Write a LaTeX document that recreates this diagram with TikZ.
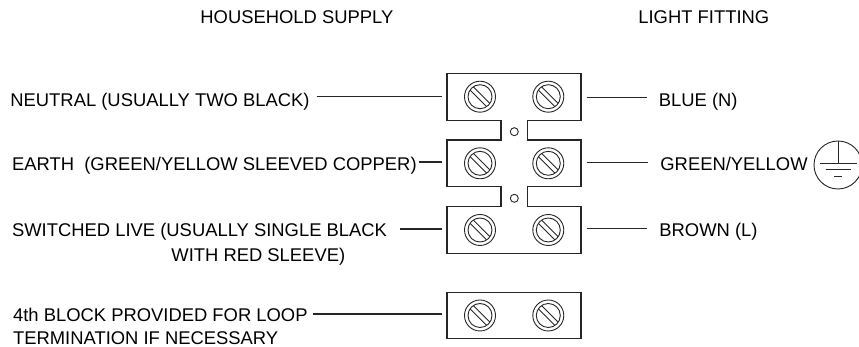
\documentclass[tikz,border=0pt]{standalone}
\usepackage{fontspec}
\setmainfont{Liberation Sans}
\usetikzlibrary{calc}
\begin{document}
\begin{tikzpicture}[x=0.5pt,y=-0.5pt,
  lbl/.style={anchor=west,inner sep=0pt,font=\fontsize{9.2pt}{11pt}\selectfont,text height=6.6pt,text depth=0pt},
  wire/.style={line width=0.6pt,black!85},
  outline/.style={line width=0.7pt,black!85},
  thinline/.style={line width=0.45pt,black!85},
  screw/.pic={
    \draw[thinline] (0,0) circle[radius=7.75pt];
    \draw[thinline] (0,0) circle[radius=6pt];
    \draw[thinline] (-6.72,-9.97) -- (9.97,6.72);
    \draw[thinline] (-9.97,-6.72) -- (6.72,9.97);
  }]
\useasboundingbox (0,0) rectangle (859,347);

% headings
\node[lbl] (hs) at (200,16.8) {HOUSEHOLD SUPPLY};
\node[lbl] (lf) at (638,16.8) {LIGHT FITTING};

% connected blocks 1-3
\draw[outline] (447,73.3) -- (581,73.3) -- (581,120.3) -- (527.3,120.3) -- (527.3,140)
  -- (581,140) -- (581,186.7) -- (527.3,186.7) -- (527.3,206.7) -- (581,206.7)
  -- (581,253.3) -- (447,253.3) -- (447,206.7) -- (501,206.7) -- (501,186.7)
  -- (447,186.7) -- (447,140) -- (501,140) -- (501,120.3) -- (447,120.3) -- cycle;
\draw[thinline] (514.3,131.7) circle[radius=2pt];
\draw[thinline] (514.3,198.3) circle[radius=2pt];
% block 4
\draw[outline] (447,292.3) rectangle (581,338.3);

% screws
\foreach \yy in {96.7,163.3,230,315.5}{
  \pic at (480,\yy) {screw};
  \pic at (548.3,\yy) {screw};
}

% wire end coordinates at blocks
\coordinate (l1) at (442,96.7);
\coordinate (l2) at (442,162);
\coordinate (l3) at (442,229);
\coordinate (l4) at (442,314);
\coordinate (r1) at (586.5,97.3);
\coordinate (r2) at (586.5,162.7);
\coordinate (r3) at (586.5,228.3);

% left labels
\node[lbl] (nl) at (10,99.5) {NEUTRAL (USUALLY TWO BLACK)};
\node[lbl] (el) at (11.7,163.7) {EARTH\ \ (GREEN/YELLOW SLEEVED COPPER)};
\node[lbl] (sl) at (11.7,230.3) {SWITCHED LIVE (USUALLY SINGLE BLACK};
\node[lbl] (sl2) at (171,255) {WITH RED SLEEVE)};
\node[lbl] (fl) at (12.7,315.3) {4th BLOCK PROVIDED FOR LOOP};
\node[lbl] (fl2) at (12.7,337.8) {TERMINATION IF NECESSARY};

\draw[wire] (nl.east |- l1) ++(6.5,0) -- (l1);
\draw[wire] (el.east |- l2) ++(1.5,0) -- (l2);
\draw[wire] (sl.east |- l3) ++(13,0) -- (l3);
\draw[wire] (fl.east |- l4) ++(5,0) -- (l4);

% right labels
\node[lbl] (bn) at (658.5,99.5) {BLUE (N)};
\node[lbl] (gy) at (660,163.5) {GREEN/YELLOW};
\node[lbl] (br) at (659,230.3) {BROWN (L)};

\draw[wire] (r1) -- ($(bn.west |- r1)+(-11.5,0)$);
\draw[wire] (r2) -- ($(gy.west |- r2)+(-12,0)$);
\draw[wire] (r3) -- ($(br.west |- r3)+(-12,0)$);

% earth symbol
\coordinate (es) at (838,165);
\draw[thinline] (es) circle[radius=12pt];
\draw[thinline] (838,141) -- (838,163);
\draw[thinline] (819.5,163) -- (856.5,163);
\draw[thinline] (825.5,169.5) -- (850.5,169.5);
\draw[thinline] (834,176.5) -- (842,176.5);
\end{tikzpicture}
\end{document}
